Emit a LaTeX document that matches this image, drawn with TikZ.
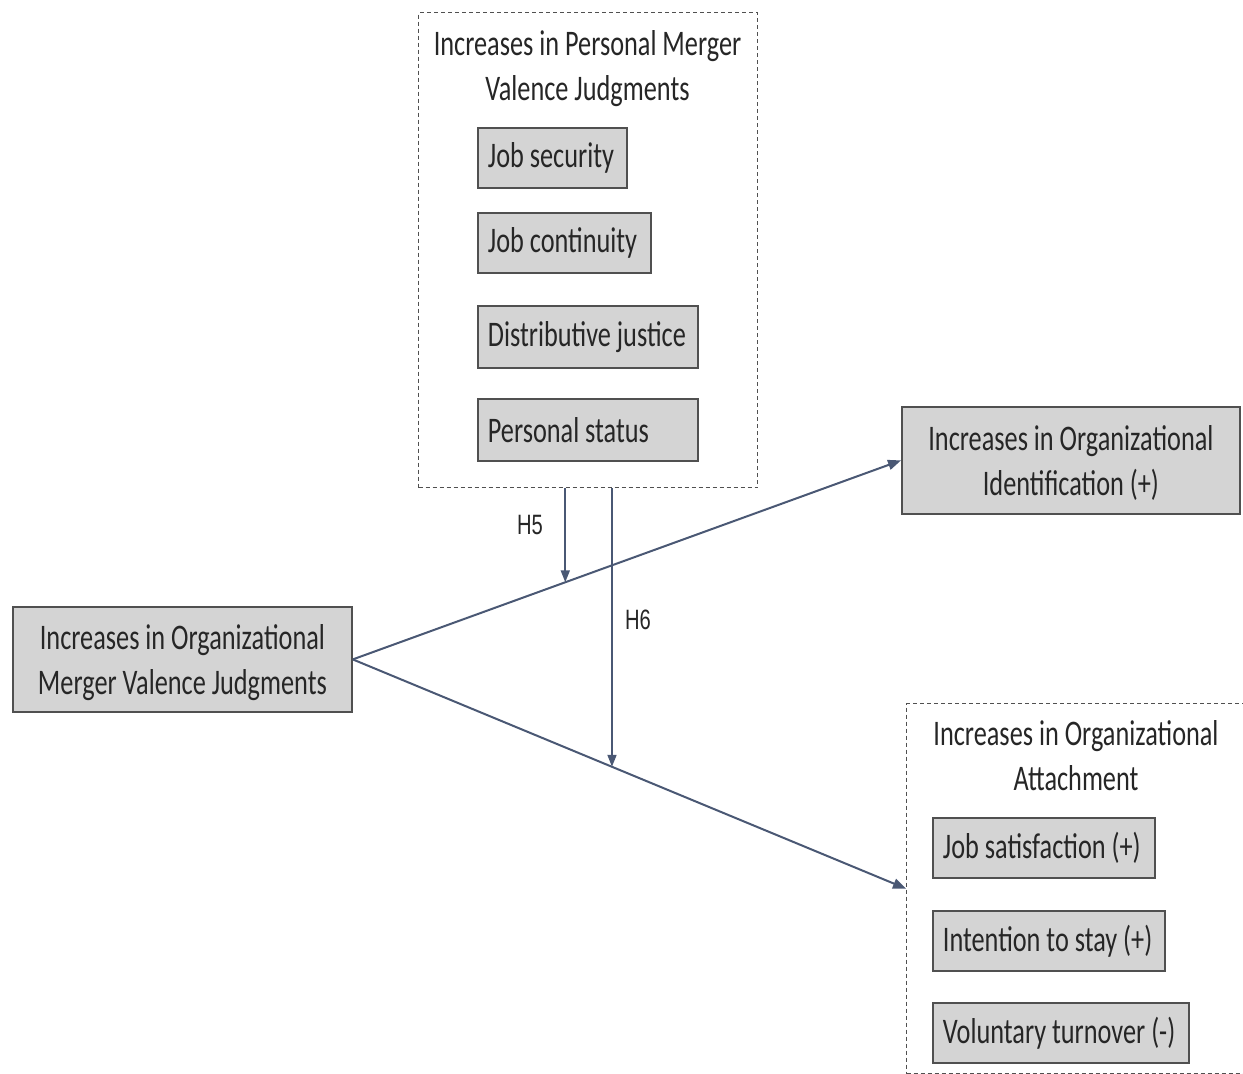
\documentclass[tikz,border=0pt]{standalone}
\usepackage{fontspec}
\setmainfont{Carlito}[FakeStretch=0.73]
\newfontfamily\hfont{Liberation Sans}[FakeStretch=0.72]
\usetikzlibrary{arrows.meta,calc}
\definecolor{arr}{HTML}{4A5874}
\definecolor{boxfill}{HTML}{D4D4D4}
\definecolor{boxline}{HTML}{505050}
\definecolor{txt}{HTML}{262626}
\newcommand{\itemtext}[2]{\raisebox{-2pt}{\makebox[#1][l]{#2}}}
\newcommand{\dropstrut}{\rule{0pt}{31pt}}
\tikzset{
  item/.style={draw=boxline, line width=1.8pt, fill=boxfill, anchor=north west,
    inner xsep=10pt, inner ysep=0pt, font=\fontsize{36}{45}\selectfont, text=txt,
    minimum height=#1},
  item/.default=60pt,
  bigbox/.style={draw=boxline, line width=1.8pt, fill=boxfill, anchor=north west,
    inner sep=0pt, font=\fontsize{36}{45}\selectfont, text=txt, align=center},
  dbox/.style={draw=boxline, line width=1.2pt, dash pattern=on 4pt off 3pt,
    anchor=north west, inner sep=0pt},
  title/.style={font=\fontsize{36}{45}\selectfont, text=txt, align=center, inner sep=0pt},
  hlab/.style={font=\hfont\fontsize{28}{30}\selectfont, text=txt, inner sep=0pt},
  link/.style={draw=arr, line width=2pt, -{Triangle[length=13pt,width=10pt]}},
  mod/.style={draw=arr, line width=1.8pt, -{Triangle[length=12pt,width=9pt]}}
}
\begin{document}
\begin{tikzpicture}[x=1pt,y=-1pt]
\useasboundingbox (0,0) rectangle (1243,1074);
% top dashed group
\node[dbox, minimum width=339pt, minimum height=475pt] (pbox) at (418,12) {};
\node[title] (ptitle) at (587.5,68.5) {Increases in Personal Merger\\Valence Judgments};
\node[item, minimum width=149pt] (js) at (477,127) {\itemtext{129pt}{Job security}};
\node[item, minimum width=173pt] (jc) at (477,212) {\itemtext{153pt}{Job continuity}};
\node[item=62pt, minimum width=220pt] (dj) at (477,305) {\itemtext{200pt}{Distributive justice}};
\node[item=62pt, minimum width=220pt] (ps) at (477,398) {\itemtext{200pt}{Personal status}};
% left box
\node[bigbox, minimum width=339pt, minimum height=105pt] (org) at (12,606) {\dropstrut Increases in Organizational\\Merger Valence Judgments};
% identification
\node[bigbox, minimum width=338pt, minimum height=107pt] (idn) at (901,406) {\dropstrut Increases in Organizational\\Identification (+)};
% attachment dashed group
\node[dbox, minimum width=345pt, minimum height=370pt] (abox) at (906,703) {};
\node[title] (atitle) at (1076,756) {Increases in Organizational\\Attachment};
\node[item, minimum width=222pt] (sat) at (932,817) {\itemtext{202pt}{Job satisfaction (+)}};
\node[item, minimum width=232pt] (stay) at (932,910) {\itemtext{212pt}{Intention to stay (+)}};
\node[item, minimum width=256pt] (turn) at (932,1002) {\itemtext{236pt}{Voluntary turnover (-)}};
% main links
\draw[link] (org.east) -- (idn.west);
\draw[link] (org.east) -- (abox.west);
% moderators
\coordinate (h5t) at ($(org.east)!0.3876!(idn.west)$);
\coordinate (h6t) at ($(org.east)!0.4685!(abox.west)$);
\draw[mod] (pbox.south -| h5t) -- (h5t);
\draw[mod] (pbox.south -| h6t) -- (h6t);
\node[hlab] (h5) at (530,525) {H5};
\node[hlab] (h6) at (638,620) {H6};
\end{tikzpicture}
\end{document}
